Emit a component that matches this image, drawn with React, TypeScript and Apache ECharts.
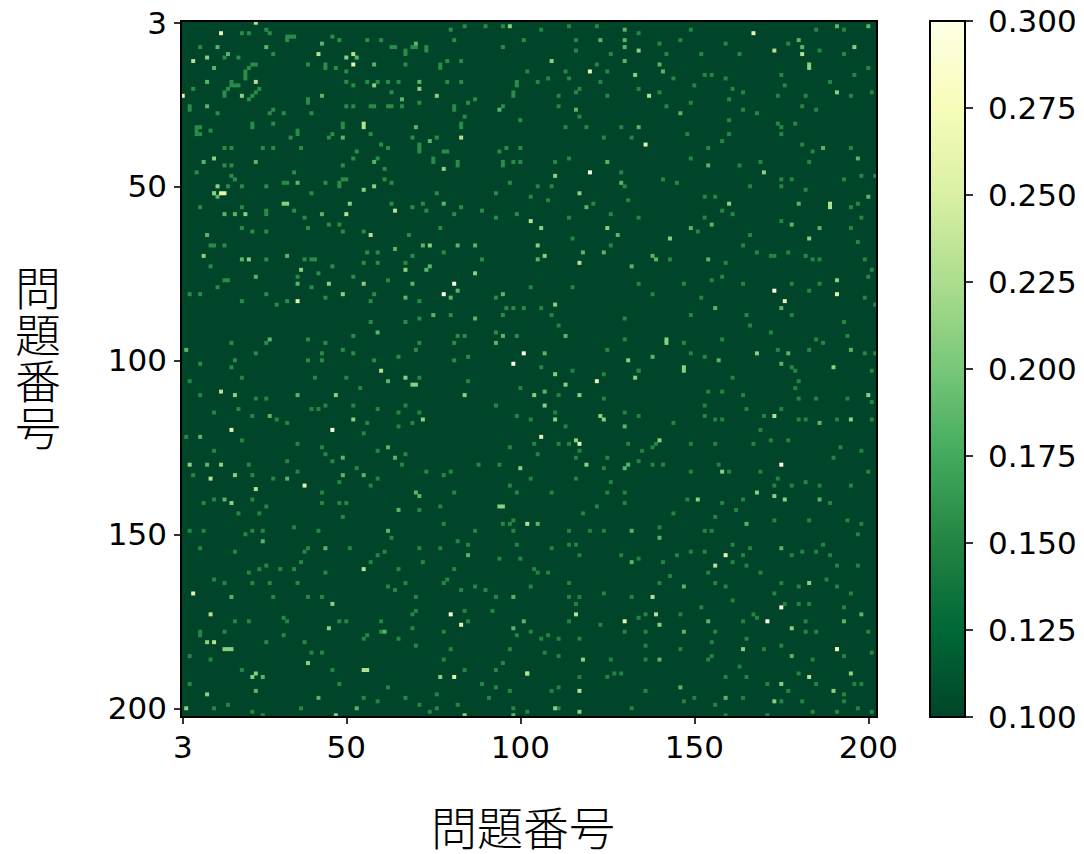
import React, { useEffect, useRef } from "react";
import * as echarts from "echarts";

const problemNumbers: number[] = [];
for (let n = 3; n <= 202; n++) problemNumbers.push(n);
const tickNumbers = [3, 50, 100, 150, 200];
const colorStops = ["#004529", "#006837", "#238443", "#41ab5d", "#78c679", "#addd8e", "#d9f0a3", "#f7fcb9", "#ffffe5"];
const xTitle = "問題番号";
const yTitle = "問\n題\n番\n号";

// Sparse reading of the picture: flat x,y pairs per colour level. Unlisted cells sit at about 0.10.
const cells300 = [81,78, 78,81, 101,98, 98,101, 120,46, 173,80, 171,175, 80,173, 175,130, 175,171, 46,120];
const cells260 = [14,6, 3,24, 52,15, 14,52, 15,52, 36,83, 167,6, 120,17, 136,38, 191,81, 176,83, 17,120, 38,136, 6,167, 81,191, 83,176, 122,106, 106,122, 159,156, 117,124, 130,175, 191,183];
const cells235 = [64,57, 6,14, 24,20, 57,64, 103,60, 55,32, 55,33, 137,24, 14,109, 11,134, 24,137, 117,72, 173,116, 156,159, 116,173, 139,173, 189,55, 189,56, 55,189, 56,189, 83,36, 52,12, 173,11, 181,12, 191,183, 60,103, 42,12, 50,58, 24,3, 55,160, 12,181, 11,173, 138,168, 117,195, 102,147, 102,190, 183,191];
const cells210 = [97,4, 10,13, 50,13, 58,21, 71,22, 76,24, 20,24, 12,42, 78,45, 13,50, 58,50, 55,51, 12,52, 32,55, 33,55, 51,55, 21,58, 74,67, 9,70, 22,71, 37,74, 67,74, 87,75, 45,78, 55,78, 49,81, 134,11, 109,14, 133,18, 191,23, 183,15, 183,16, 170,46, 110,47, 117,52, 160,55, 125,62, 106,62, 143,65, 183,65, 105,67, 107,70, 191,77, 110,84, 142,94, 142,95, 131,100, 168,98, 190,102, 147,102, 147,103, 196,10, 67,105, 69,107, 70,107, 18,110, 47,110, 84,110, 52,117, 72,117, 5,130, 100,131, 14,130, 18,133, 17,141, 94,142, 95,142, 46,170, 45,177, 10,181, 15,183, 16,183, 17,183, 39,187, 23,191, 24,190, 77,191, 102,190, 10,196, 4,200, 47,202, 84,202, 110,104, 133,105, 113,107, 104,110, 117,110, 107,113, 200,110, 110,117, 123,116, 124,117, 195,117, 140,123, 116,123, 119,130, 158,132, 168,138, 173,139, 176,140, 151,140, 183,164, 140,176, 178,177, 164,183, 118,186, 195,190, 175,193, 190,195, 173,198, 110,200, 117,201];
const cells185 = [13,10, 27,10, 43,9, 70,9, 16,12, 53,13, 58,15, 12,16, 10,20, 71,20, 43,24, 66,25, 10,27, 94,28, 70,33, 49,36, 74,37, 9,43, 24,43, 58,43, 36,49, 12,52, 13,53, 78,55, 15,58, 18,58, 43,58, 10,64, 72,67, 82,67, 87,67, 64,68, 33,70, 20,71, 74,73, 73,74, 24,76, 36,78, 69,78, 82,80, 95,81, 80,82, 67,82, 75,87, 87,88, 59,92, 28,94, 95,93, 93,95, 4,97, 130,5, 123,8, 130,8, 180,8, 130,10, 181,10, 130,14, 140,15, 141,17, 116,28, 146,29, 134,33, 187,39, 197,42, 125,43, 154,44, 129,49, 200,53, 180,55, 119,56, 178,61, 149,62, 186,62, 155,61, 128,64, 118,69, 124,69, 105,71, 138,70, 139,71, 154,71, 132,73, 156,85, 175,85, 113,93, 138,99, 177,98, 175,101, 157,100, 195,97, 107,98, 200,4, 191,4, 62,106, 36,110, 28,116, 8,122, 62,125, 64,128, 49,128, 10,130, 49,133, 55,133, 33,134, 70,138, 71,139, 15,140, 65,143, 62,149, 26,152, 44,154, 85,156, 98,168, 17,168, 101,175, 98,177, 61,178, 26,191, 24,195, 42,197, 53,200, 98,202, 107,109, 186,118, 130,119, 130,131, 131,130, 186,140, 105,147, 165,147, 132,149, 140,151, 175,154, 132,158, 147,165, 154,175, 198,173, 193,175, 147,178, 178,185, 140,186, 146,194, 159,197];
const cells150 = [8,10, 15,13, 19,13, 22,6, 20,6, 28,6, 27,5, 33,7, 33,8, 35,7, 34,7, 46,7, 48,8, 56,8, 60,8, 63,10, 64,10, 67,11, 67,12, 70,10, 69,10, 73,10, 73,11, 81,8, 80,5, 84,4, 90,4, 95,4, 101,8, 95,10, 29,12, 39,15, 44,15, 44,16, 47,16, 50,17, 67,15, 77,15, 77,16, 79,14, 83,14, 21,17, 21,18, 21,19, 22,16, 23,15, 24,15, 17,20, 17,21, 18,21, 19,21, 16,22, 15,23, 15,24, 23,24, 24,23, 25,22, 22,25, 6,22, 50,20, 52,21, 56,20, 59,20, 62,20, 65,20, 79,20, 83,20, 99,20, 99,21, 98,23, 98,24, 63,23, 87,25, 85,26, 95,27, 39,25, 39,26, 50,27, 52,27, 57,27, 58,27, 62,27, 63,27, 66,27, 71,26, 81,27, 81,28, 5,27, 5,28, 13,29, 28,29, 29,28, 32,29, 40,29, 84,30, 100,31, 7,33, 8,33, 7,34, 7,35, 8,35, 11,34, 23,32, 23,33, 29,32, 36,34, 36,35, 34,36, 46,35, 45,36, 49,32, 49,33, 57,35, 69,36, 76,36, 83,32, 83,33, 71,38, 71,39, 71,40, 60,38, 62,39, 15,39, 17,39, 26,39, 29,39, 37,39, 53,40, 78,40, 79,40, 94,40, 96,39, 100,39, 75,42, 75,43, 59,42, 52,42, 49,44, 82,43, 82,44, 95,43, 95,44, 98,43, 100,43, 15,44, 17,44, 7,46, 35,46, 61,45, 17,47, 18,48, 33,49, 32,49, 44,49, 48,49, 48,50, 49,48, 50,48, 61,48, 63,49, 97,49, 16,50, 20,50, 27,50, 40,52, 93,52, 76,52];
const cells150b = [8,56, 20,56, 27,57, 27,58, 35,57, 38,59, 45,61, 48,61, 49,63, 55,63, 39,62, 63,55, 69,56, 72,55, 73,57, 83,56, 81,58, 89,57, 93,59, 99,58, 77,62, 68,64, 27,63, 23,63, 11,67, 12,67, 15,67, 20,62, 56,69, 59,69, 69,70, 78,69, 89,71, 38,71, 40,71, 41,71, 27,71, 11,73, 59,72, 67,72, 55,72, 46,73, 42,75, 36,76, 52,76, 62,77, 15,77, 16,77, 40,79, 13,79, 5,81, 8,81, 27,81, 44,82, 58,81, 57,83, 33,83, 20,83, 30,84, 71,83, 93,82, 96,85, 98,85, 101,85, 57,89, 67,89, 71,88, 80,87, 95,87, 82,93, 84,93, 93,92, 99,93, 71,95, 81,95, 44,95, 39,94, 27,95, 17,95, 52,93, 49,97, 70,97, 24,98, 43,98, 52,98, 85,99, 8,101, 17,102, 18,100, 39,100, 43,100, 58,100, 65,99, 81,100];
const cells140 = [114,4, 122,4, 106,5, 134,6, 149,5, 193,5, 185,5, 116,8, 146,8, 159,9, 140,9, 177,9, 116,11, 126,12, 142,12, 152,12, 163,12, 186,11, 193,12, 122,15, 113,17, 102,17, 125,17, 105,20, 108,19, 114,19, 123,20, 144,19, 153,18, 155,18, 159,19, 175,18, 196,18, 200,16, 189,20, 176,21, 150,21, 117,22, 116,23, 125,24, 140,23, 134,22, 161,22, 164,23, 174,24, 182,24, 195,24, 201,23, 111,24, 149,26, 160,25, 111,27, 142,27, 164,28, 168,29, 181,27, 185,28, 117,30, 160,31, 113,33, 119,33, 129,33, 174,32, 179,32, 175,33, 124,36, 132,36, 148,35, 160,35, 175,35, 158,37, 181,38, 184,40, 195,39, 154,39, 114,42, 110,43, 149,42, 129,46, 163,44, 169,43, 183,43, 198,47, 202,47, 175,48, 178,48, 193,48, 141,48, 145,49, 130,50, 109,50, 105,50, 175,50, 166,50, 131,54, 103,53, 108,54, 121,55, 153,53, 156,53, 182,51, 195,56, 197,55, 161,58, 158,57, 126,58, 114,59, 153,59, 175,60, 198,59, 134,59, 166,64, 115,65, 151,63, 195,62, 197,66, 164,67, 172,70, 173,70, 182,70, 184,71, 186,71, 168,69, 177,69, 143,71, 199,71, 126,67, 159,72, 201,74, 155,77, 158,76, 147,78, 134,78, 164,78, 178,78, 186,78, 200,76, 115,79, 103,79, 138,81, 152,82, 183,80, 199,82, 202,84, 106,85, 149,87, 109,87, 165,87, 178,87, 130,88, 193,89, 111,90, 166,90, 172,92, 194,93, 158,94, 147,95, 130,94, 185,94, 187,95, 174,97, 183,97, 125,97, 149,98, 153,99, 199,98, 202,98, 106,102, 134,103, 178,102];
const cells140b = [20,105, 5,106, 41,105, 50,105, 54,108, 71,105, 85,106, 100,108, 8,110, 24,111, 27,111, 44,113, 52,113, 67,113, 93,113, 19,114, 12,115, 23,116, 40,114, 42,114, 65,115, 71,115, 59,114, 99,116, 30,117, 33,118, 56,118, 65,119, 69,118, 55,121, 4,122, 20,123, 36,124, 43,125, 59,126, 67,127, 97,125, 44,127, 12,126, 22,130, 33,129, 46,129, 53,131, 66,130, 88,130, 94,130, 36,132, 73,132, 78,133, 80,132, 6,133, 23,133, 29,134, 59,134, 48,135, 57,136, 81,138, 97,136, 99,138, 43,138, 12,140, 23,140, 9,141, 43,141, 48,141, 50,141, 27,142, 77,142, 71,143, 19,144, 25,144, 49,145, 78,147, 95,147, 98,146, 97,147, 35,148, 42,149, 87,149, 5,149, 9,149, 23,149, 26,149, 21,150, 63,151, 98,149, 82,152, 8,154, 18,155, 39,154, 38,155, 51,154, 61,155, 71,154, 77,154, 85,153, 99,153, 59,156, 94,157, 100,157, 57,158, 72,158, 27,159, 31,160, 35,160, 37,158, 22,161, 25,160, 44,161, 65,160, 81,160, 12,163, 15,164, 28,164, 36,164, 23,164, 67,164, 78,164, 79,163, 64,166, 62,165, 87,165, 83,166, 90,166, 70,168, 93,168, 43,168, 29,168, 39,168, 70,172, 69,173, 84,172, 92,172, 33,175, 32,174, 48,175, 50,175, 60,175, 85,175, 22,175, 18,175, 8,178, 8,179, 15,178, 32,179, 60,178, 69,177, 78,178, 55,180, 38,181, 27,181, 65,180, 56,179, 99,179, 70,182, 80,183, 97,183, 40,184, 43,184, 11,186, 5,185, 78,186, 95,187, 20,189, 46,189, 84,189, 93,189, 48,193, 5,193, 62,194, 89,193, 93,194, 97,195, 76,196, 55,197, 67,197, 91,197, 98,200, 37,200, 16,199, 12,200, 71,199, 76,200, 82,199, 59,198, 74,201, 23,201, 26,202];
const cells130 = [115,103, 134,103, 161,105, 179,103, 201,103, 124,104, 180,106, 179,108, 154,109, 158,109, 164,110, 124,111, 111,110, 180,111, 185,111, 194,111, 201,112, 153,113, 153,116, 130,115, 134,116, 103,117, 110,115, 165,114, 175,114, 156,117, 158,117, 170,116, 180,117, 182,117, 191,117, 201,117, 144,118, 113,119, 169,120, 104,124, 111,124, 114,124, 131,124, 138,125, 139,124, 149,124, 156,124, 167,124, 172,123, 177,123, 192,125, 198,126, 135,126, 117,126, 116,128, 105,127, 125,128, 190,128, 157,130, 134,129, 138,130, 141,130, 149,132, 160,132, 124,131, 169,132, 103,134, 116,134, 126,135, 174,134, 178,136, 182,135, 186,136, 195,136, 173,136, 200,132, 130,138, 109,138, 125,138, 148,140, 158,141, 164,140, 130,141, 189,141, 122,142, 162,143, 118,144, 144,144, 156,145, 173,146, 194,146, 183,146, 114,149, 120,149, 124,149, 140,148, 153,149, 155,149, 198,147, 197,150, 114,153, 116,153, 109,154, 149,155, 161,153, 153,155, 166,154, 181,155, 185,155, 187,153, 117,156, 129,156, 134,157, 145,156, 164,156, 178,156, 189,156, 197,159, 161,158, 165,159, 191,159, 141,158, 104,160, 105,161, 108,161, 154,161, 169,161, 143,162, 114,164, 103,165, 140,164, 156,164, 159,165, 175,164, 180,165, 191,165, 188,163, 173,167, 114,168, 117,168, 124,167, 132,168, 195,167, 116,170, 161,169, 180,170, 176,170, 183,170, 193,171, 152,171, 134,174, 136,173, 146,173, 167,173, 168,174, 114,175, 123,176, 164,175, 182,175, 103,178, 106,180, 108,179, 111,180, 117,180, 130,178, 136,178, 156,178, 182,178, 185,178, 200,178, 165,180, 155,181, 136,182, 146,183, 170,183, 175,182, 184,186, 193,185, 201,184, 111,185, 107,184, 155,185, 154,186, 163,188, 126,186, 136,186, 165,191, 125,191, 127,190, 129,190, 159,191, 117,191, 111,194, 109,195, 171,193, 180,190, 185,193, 196,193, 198,193, 193,196, 177,195, 136,195, 132,200, 147,198, 150,197, 156,199, 164,197, 175,198, 181,198, 184,201, 191,201, 197,200, 193,198, 201,201, 111,200, 102,201, 159,202, 171,202];

const levels: [number[], number][] = [
  [cells130, 0.15],
  [cells140b, 0.152],
  [cells140, 0.152],
  [cells150b, 0.155],
  [cells150, 0.155],
  [cells185, 0.185],
  [cells210, 0.21],
  [cells235, 0.23],
  [cells260, 0.26],
  [cells300, 0.3],
];

function buildCells() {
  const out: [number, number, number][] = [];
  for (const [pairs, v] of levels) {
    for (let i = 0; i + 1 < pairs.length; i += 2) {
      out.push([pairs[i] - 3, pairs[i + 1] - 3, v]);
    }
  }
  return out;
}

export default function App() {
  const ref = useRef<HTMLDivElement>(null);
  useEffect(() => {
    const chart = echarts.init(ref.current!, undefined, { renderer: "svg" });
    const font = "DejaVu Sans";
    const cats = problemNumbers.map(String);
    const isTick = (i: number) => tickNumbers.includes(problemNumbers[i]);
    const catAxis = {
      type: "category" as const,
      data: cats,
      axisLine: { show: false },
      splitLine: { show: false },
      splitArea: { show: false },
      axisTick: { show: true, alignWithLabel: true, interval: isTick, length: 7, lineStyle: { color: "#000", width: 1.6 } },
      axisLabel: { show: true, interval: isTick, color: "#000", fontFamily: font, fontSize: 31 },
    };
    const nameStyle = { color: "#000", fontFamily: "Noto Sans CJK JP", fontSize: 46, fontWeight: 300 as any };
    chart.setOption({
      animation: false,
      backgroundColor: "#fff",
      grid: [
        { left: 181, top: 21, width: 696, height: 696, show: true, backgroundColor: colorStops[0], borderWidth: 0, outerBoundsMode: "none", containLabel: false },
        { left: 930, top: 21, width: 35, height: 696, show: false, outerBoundsMode: "none", containLabel: false },
      ],
      xAxis: [
        { ...catAxis, gridIndex: 0, position: "bottom", name: xTitle, nameLocation: "middle", nameGap: 85,
          axisLabel: { ...catAxis.axisLabel, margin: 14 },
          nameTextStyle: { ...nameStyle, lineHeight: 46, padding: [0, 12, 0, 0] } },
        { type: "category", gridIndex: 1, show: false, data: ["0"] },
      ],
      yAxis: [
        { ...catAxis, gridIndex: 0, inverse: true, axisLabel: { ...catAxis.axisLabel, margin: 14 } },
        {
          type: "value", gridIndex: 1, position: "right", min: 0.1, max: 0.3, interval: 0.025,
          axisLine: { show: false }, splitLine: { show: false },
          axisTick: { show: true, length: 8, lineStyle: { color: "#000", width: 1.6 } },
          axisLabel: { color: "#000", fontFamily: font, fontSize: 31, margin: 23, showMinLabel: true, showMaxLabel: true,
            formatter: (v: number) => v.toFixed(3) },
        },
      ],
      visualMap: {
        type: "continuous", seriesIndex: 0, dimension: 2, min: 0.1, max: 0.3, calculable: false, realtime: false,
        left: 930, top: 21, itemWidth: 35, itemHeight: 696, padding: 0, showLabel: false, text: ["", ""], textGap: 0,
        inRange: { color: colorStops },
      },
      graphic: [
        { type: "rect", z: 100, shape: { x: 181, y: 21, width: 696, height: 696 }, style: { fill: "none", stroke: "#000", lineWidth: 2 } },
        { type: "rect", z: 100, shape: { x: 930, y: 21, width: 35, height: 696 }, style: { fill: "none", stroke: "#000", lineWidth: 2 } },
        { type: "text", z: 100, x: 38, y: 355, style: { text: yTitle, ...{ fill: "#000", font: "300 46px 'Noto Sans CJK JP'" }, lineHeight: 46.5, align: "center", verticalAlign: "middle" } },
      ],
      series: [
        {
          type: "heatmap", xAxisIndex: 0, yAxisIndex: 0, data: buildCells(), progressive: 0,
          itemStyle: { borderWidth: 0 }, emphasis: { disabled: true },
        },
      ],
    });
    return () => chart.dispose();
  }, []);
  return <div ref={ref} style={{ position: "absolute", left: 0, top: 0, width: 1084, height: 854 }} />;
}
